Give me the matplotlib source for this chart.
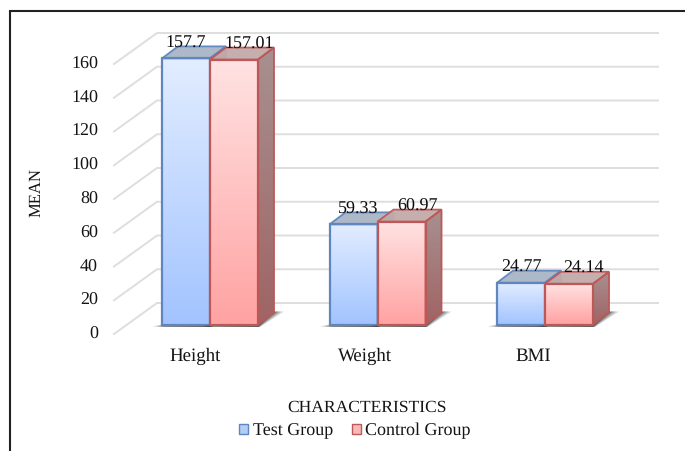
import numpy as np
import matplotlib
matplotlib.use('Agg')
import matplotlib.pyplot as plt
from matplotlib.colors import LinearSegmentedColormap
from matplotlib.patches import Patch, Polygon
from matplotlib.transforms import Affine2D

categories = ['Height', 'Weight', 'BMI']
test_group = [157.7, 59.33, 24.77]
control_group = [157.01, 60.97, 24.14]
value_labels_test = ['157.7', '59.33', '24.77']
value_labels_control = ['157.01', '60.97', '24.14']
yticks = [0, 20, 40, 60, 80, 100, 120, 140, 160]

W, H = 685, 451
XS = 167.5      # px per category
YS = 1.6875     # px per unit
X0, Y0 = 210, 324.5
BAR = 48 / XS
DEPTH_X, DEPTH_Y = 16 / XS, 12 / YS
WALL_X, WALL_Y = 43 / XS, 31 / YS

plt.rcParams['font.family'] = ['Liberation Serif', 'DejaVu Serif']
plt.rcParams['font.size'] = 13
plt.rcParams['text.hinting'] = 'no_hinting'
TXT = '#141414'

fig = plt.figure(figsize=(W / 100, H / 100), dpi=100)
ax = fig.add_axes([0, 0, 1, 1])
ax.axis('off')
xlim = (-X0 / XS, (W - X0) / XS)
ylim = ((Y0 - H) / YS, Y0 / YS)

# layout items in image pixels, y going down
px = Affine2D().scale(1 / W, -1 / H).translate(0, 1) + fig.transFigure


def gradient(points, top, bottom, z):
    cmap = LinearSegmentedColormap.from_list('g', [top, bottom])
    pts = np.array(points)
    im = ax.imshow(np.linspace(0, 1, 64).reshape(-1, 1), cmap=cmap, aspect='auto',
                   extent=(pts[:, 0].min(), pts[:, 0].max(), pts[:, 1].min(), pts[:, 1].max()),
                   origin='upper', zorder=z, interpolation='bilinear')
    clip = Polygon(points, closed=True, transform=ax.transData, fc='none', ec='none')
    ax.add_patch(clip)
    im.set_clip_path(clip)


def bar3d(x, v, front, side, top, edge, z):
    x1 = x + BAR
    # soft shadow on the floor
    for grow, a in [(10, 0.18), (7, 0.25), (4, 0.35), (1, 0.45)]:
        g = grow / XS
        ax.add_patch(Polygon([(x - g, -2 / YS), (x1 + g * 0.2, -2.5 / YS),
                              (x1 + DEPTH_X + g, DEPTH_Y + 1 / YS), (x1 + DEPTH_X, DEPTH_Y + 1 / YS)],
                             closed=True, fc='#303030', ec='none', alpha=a, zorder=z - 0.4))
    gradient([(x, 0), (x1, 0), (x1, v), (x, v)], front[0], front[1], z)
    side_pts = [(x1, 0), (x1 + DEPTH_X, DEPTH_Y), (x1 + DEPTH_X, v + DEPTH_Y), (x1, v)]
    gradient(side_pts, side[0], side[1], z)
    top_pts = [(x, v), (x1, v), (x1 + DEPTH_X, v + DEPTH_Y), (x + DEPTH_X, v + DEPTH_Y)]
    ax.add_patch(Polygon(top_pts, closed=True, fc=top, ec=edge, lw=1.3, alpha=0.95, zorder=z))
    ax.add_patch(Polygon(side_pts, closed=True, fc='none', ec=edge, lw=1.3, zorder=z))
    ax.add_patch(Polygon([(x, 0), (x1, 0), (x1, v), (x, v)], closed=True, fc='none',
                         ec=edge, lw=1.6, zorder=z + 0.1))


# walls and floor lines
for t in yticks:
    ax.plot([xlim[0] + 114 / XS, xlim[0] + 114 / XS + WALL_X, xlim[0] + 658 / XS],
            [t - 9.5 / YS, t - 9.5 / YS + WALL_Y, t - 9.5 / YS + WALL_Y],
            color='#dedede', lw=1.4, zorder=1, solid_joinstyle='miter')
    ax.text(98, 334.5 - t * YS, str(t), transform=px, ha='right', va='center', color=TXT)

label_dx_test = [0, 5, 0]
label_dx_control = [15, 16, 14]
label_dx_category = [-14.5, -12, -12]
for i, name in enumerate(categories):
    bar3d(i - BAR, test_group[i], ('#e2edff', '#a3c4ff'), ('#8095b5', '#607aa5'), '#a9b5c6', '#5f86bf', 3 + i)
    bar3d(i, control_group[i], ('#ffe2e2', '#ffa3a3'), ('#a89090', '#a06464'), '#c2aaaa', '#bd5858', 3.5 + i)
    ax.text(i - BAR / 2 + label_dx_test[i] / XS, test_group[i] + 15 / YS, value_labels_test[i],
            ha='center', va='center', color='#0c0c0c', zorder=10)
    ax.text(i + BAR / 2 + label_dx_control[i] / XS, control_group[i] + 15.5 / YS, value_labels_control[i],
            ha='center', va='center', color='#0c0c0c', zorder=10)
    ax.text(i + label_dx_category[i] / XS, -31.5 / YS, name, ha='center', va='center', color=TXT, fontsize=13.6)

ax.text(36, 193, 'MEAN', transform=px, rotation=90, ha='center', va='center', color=TXT, fontsize=12)
ax.text(367, 408, 'CHARACTERISTICS', transform=px, ha='center', va='center', color=TXT, fontsize=12.6)

# picture frame
ax.plot([10.5, 10.5, W], [H, 10.5, 10.5], transform=px, color='#222222', lw=1.5, zorder=20,
        solid_joinstyle='miter')

handles = [Patch(fc='#b3cdf5', ec='#5f86bf', lw=1, label='Test Group'),
           Patch(fc='#f9b9b9', ec='#bd5858', lw=1, label='Control Group')]
ax.legend(handles=handles, loc='center', bbox_to_anchor=(355 / W, 1 - 431 / H), ncol=2, frameon=False,
          fontsize=13, handlelength=0.5, handleheight=0.5, handletextpad=0.25, columnspacing=1.05,
          labelcolor=TXT, borderpad=0, borderaxespad=0)

ax.set_xlim(xlim)
ax.set_ylim(ylim)
fig.savefig('out.png', dpi=100)
